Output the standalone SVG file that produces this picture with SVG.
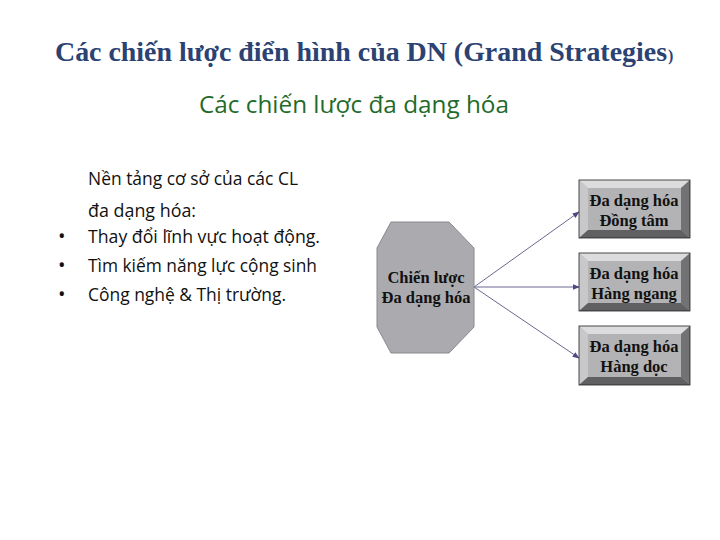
<svg xmlns="http://www.w3.org/2000/svg" width="720" height="540" viewBox="0 0 720 540">
<defs>
<style>
.title{font-family:"Liberation Serif",serif;font-weight:bold;fill:#2B4272;}
.sub{font-family:"Open Sans","Liberation Sans",sans-serif;fill:#1F6B2A;font-size:23px;}
.body{font-family:"Open Sans","Liberation Sans",sans-serif;fill:#111;font-size:17.5px;}
.lbl{font-family:"Liberation Serif",serif;font-weight:bold;fill:#111;font-size:16.5px;text-anchor:middle;}
.conn{stroke:#6A6890;stroke-width:1;fill:none;marker-end:url(#ah);}
.face{fill:#B3B3B5;}
.bt{fill:#DCDCDE;}
.bl{fill:#C8C8CA;}
.br{fill:#727274;}
.bb{fill:#606062;}
.edge{fill:none;stroke:#222;stroke-width:0.8;}
</style>
<marker id="ah" viewBox="0 0 10 10" refX="9" refY="5" markerWidth="7" markerHeight="7" orient="auto" markerUnits="userSpaceOnUse">
<path d="M0,1 L10,5 L0,9 Z" fill="#4A4880"/>
</marker>
</defs>
<rect width="720" height="540" fill="#fff"/>
<text class="title" x="55" y="61" font-size="28" textLength="612" lengthAdjust="spacingAndGlyphs">Các chiến lược điển hình của DN (Grand Strategies</text><text class="title" x="668" y="61" font-size="16">)</text>
<text class="sub" x="199" y="113" textLength="310" lengthAdjust="spacingAndGlyphs">Các chiến lược đa dạng hóa</text>
<g class="body">
<text x="88" y="185" textLength="210" lengthAdjust="spacingAndGlyphs">Nền tảng cơ sở của các CL</text>
<text x="88" y="217" textLength="108" lengthAdjust="spacingAndGlyphs">đa dạng hóa:</text>
<text x="58" y="243" font-size="20">•</text><text x="88" y="243" textLength="232" lengthAdjust="spacingAndGlyphs">Thay đổi lĩnh vực hoạt động.</text>
<text x="58" y="272" font-size="20">•</text><text x="88" y="272" textLength="229" lengthAdjust="spacingAndGlyphs">Tìm kiếm năng lực cộng sinh</text>
<text x="58" y="301" font-size="20">•</text><text x="88" y="301" textLength="198" lengthAdjust="spacingAndGlyphs">Công nghệ &amp; Thị trường.</text>
</g>
<g id="connectors">
<line class="conn" x1="474" y1="287" x2="579" y2="212"/>
<line class="conn" x1="474" y1="287" x2="579" y2="287"/>
<line class="conn" x1="474" y1="287" x2="579" y2="358"/>
</g>
<g id="center">
<polygon points="391,222 449,222 474,248 474,327 449,353 391,353 377,327 377,248" fill="#ABABAF" stroke="#8A8A8E" stroke-width="1"/>
<text class="lbl" x="426" y="283" font-size="17.5">Chiến lược</text>
<text class="lbl" x="426" y="303" font-size="17.5">Đa dạng hóa</text>
</g>
<g id="box1">
<rect class="face" x="579" y="180" width="111" height="58"/>
<polygon class="bt" points="579,180 690,180 681,188 588,188"/>
<polygon class="bl" points="579,180 588,188 588,230 579,238"/>
<polygon class="br" points="690,180 690,238 681,230 681,188"/>
<polygon class="bb" points="579,238 588,230 681,230 690,238"/>
<rect class="edge" x="579" y="180" width="111" height="58"/>
<text class="lbl" x="634" y="206">Đa dạng hóa</text>
<text class="lbl" x="634" y="226">Đồng tâm</text>
</g>
<g id="box2">
<rect class="face" x="579" y="253" width="111" height="58"/>
<polygon class="bt" points="579,253 690,253 681,261 588,261"/>
<polygon class="bl" points="579,253 588,261 588,303 579,311"/>
<polygon class="br" points="690,253 690,311 681,303 681,261"/>
<polygon class="bb" points="579,311 588,303 681,303 690,311"/>
<rect class="edge" x="579" y="253" width="111" height="58"/>
<text class="lbl" x="634" y="279">Đa dạng hóa</text>
<text class="lbl" x="634" y="299">Hàng ngang</text>
</g>
<g id="box3">
<rect class="face" x="579" y="326" width="111" height="59"/>
<polygon class="bt" points="579,326 690,326 681,334 588,334"/>
<polygon class="bl" points="579,326 588,334 588,377 579,385"/>
<polygon class="br" points="690,326 690,385 681,377 681,334"/>
<polygon class="bb" points="579,385 588,377 681,377 690,385"/>
<rect class="edge" x="579" y="326" width="111" height="59"/>
<text class="lbl" x="634" y="352">Đa dạng hóa</text>
<text class="lbl" x="634" y="372">Hàng dọc</text>
</g>
</svg>
